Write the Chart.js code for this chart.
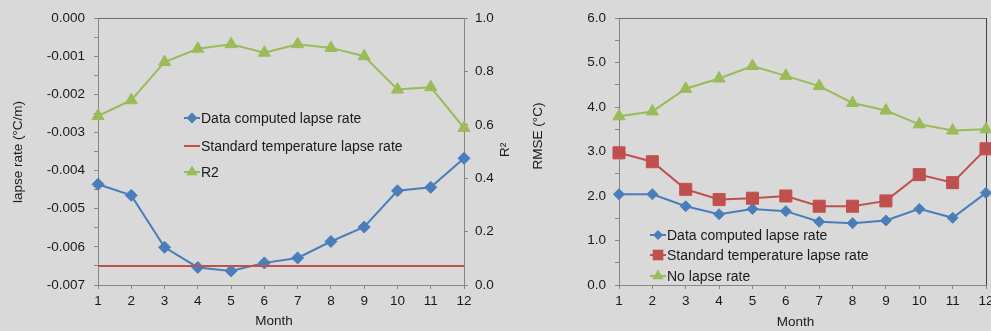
<!DOCTYPE html>
<html>
<head>
<meta charset="utf-8">
<script src="https://cdn.jsdelivr.net/npm/chart.js@4.4.1/dist/chart.umd.min.js"></script>
<style>
  html, body { margin: 0; padding: 0; background: #d9d9d9; width: 991px; height: 331px; overflow: hidden; }
  #wrap { position: relative; width: 991px; height: 331px; overflow: hidden; }
  canvas { position: absolute; top: 0; }
  #lapse { left: 0; }
  #rmse { left: 500px; }
</style>
</head>
<body>
<div id="wrap">
  <canvas id="lapse" width="520" height="331"></canvas>
  <canvas id="rmse" width="540" height="331"></canvas>
</div>
<script>
// Months on the shared x axis
const months = ['1', '2', '3', '4', '5', '6', '7', '8', '9', '10', '11', '12'];

// Monthly lapse rates (°C/m)
const lapseComputed = [-0.00436, -0.00465, -0.00601, -0.00654, -0.00663, -0.00642,
                       -0.00629, -0.00586, -0.00548, -0.00453, -0.00444, -0.00368];
const lapseStandard = [-0.0065, -0.0065, -0.0065, -0.0065, -0.0065, -0.0065,
                       -0.0065, -0.0065, -0.0065, -0.0065, -0.0065, -0.0065];
// Coefficient of determination of the monthly fits
const r2 = [0.633, 0.692, 0.835, 0.885, 0.902, 0.870, 0.902, 0.888, 0.857, 0.732, 0.741, 0.588];

// RMSE (°C) of each temperature model
const rmseComputed = [2.04, 2.04, 1.77, 1.59, 1.71, 1.66, 1.42, 1.39, 1.45, 1.71, 1.51, 2.07];
const rmseStandard = [2.97, 2.77, 2.15, 1.92, 1.95, 2.00, 1.77, 1.77, 1.89, 2.48, 2.30, 3.06];
const rmseNoLapse  = [3.79, 3.90, 4.41, 4.64, 4.92, 4.70, 4.47, 4.09, 3.92, 3.61, 3.47, 3.50];

// Labelled ticks of each value axis
const lapseTickLabels = ['0.000', '-0.001', '-0.002', '-0.003', '-0.004', '-0.005', '-0.006', '-0.007'];
const r2TickLabels = ['0.0', '0.2', '0.4', '0.6', '0.8', '1.0'];
const rmseTickLabels = ['0.0', '1.0', '2.0', '3.0', '4.0', '5.0', '6.0'];

const BLUE = '#4a7ebb';
const RED = '#c0504d';
const GREEN = '#9bbb59';
const AXIS = '#868686';
const TEXT = '#1a1a1a';
const FONT_FAMILY = "'Liberation Sans', Arial, sans-serif";

// Ticks for an axis: labelled values plus unlabelled midpoints when requested
function axisTicks(labels, withMinor) {
  const major = labels.map(Number).sort((a, b) => a - b);
  const values = major.slice();
  if (withMinor) {
    for (let i = 0; i < major.length - 1; i++) values.push((major[i] + major[i + 1]) / 2);
  }
  return values.sort((a, b) => a - b).map(v => ({ value: v }));
}
function labelFor(labels) {
  return function (value) {
    const hit = labels.find(l => Math.abs(Number(l) - value) < 1e-9);
    return hit === undefined ? '' : hit;
  };
}

function marker(ctx, style, x, y, r, color) {
  ctx.fillStyle = color;
  ctx.beginPath();
  if (style === 'rectRot') {
    ctx.moveTo(x - r, y); ctx.lineTo(x, y - r); ctx.lineTo(x + r, y); ctx.lineTo(x, y + r);
  } else if (style === 'rect') {
    const s = r * Math.SQRT1_2;
    ctx.rect(x - s, y - s, 2 * s, 2 * s);
  } else if (style === 'triangle') {
    ctx.moveTo(x, y - r); ctx.lineTo(x + r * 0.866, y + r * 0.5); ctx.lineTo(x - r * 0.866, y + r * 0.5);
  }
  ctx.closePath();
  ctx.fill();
}

// Plot-area frame lines not covered by the axes
const frame = {
  id: 'frame',
  beforeDatasetsDraw(chart, args, opts) {
    const { ctx, chartArea: a } = chart;
    ctx.save();
    ctx.lineWidth = 1;
    ctx.strokeStyle = opts.topColor;
    const ty = Math.round(a.top) + 0.5;
    ctx.beginPath(); ctx.moveTo(a.left, ty); ctx.lineTo(a.right, ty); ctx.stroke();
    if (opts.rightColor) {
      const rx = Math.round(a.right) + 0.5;
      ctx.strokeStyle = opts.rightColor;
      ctx.beginPath(); ctx.moveTo(rx, a.top); ctx.lineTo(rx, a.bottom); ctx.stroke();
    }
    ctx.restore();
  }
};

// Axis captions
const captions = {
  id: 'captions',
  afterDraw(chart, args, opts) {
    const { ctx } = chart;
    ctx.save();
    ctx.fillStyle = opts.color;
    ctx.font = opts.font;
    ctx.textAlign = 'center';
    ctx.textBaseline = 'middle';
    for (const c of opts.items) {
      ctx.save();
      ctx.translate(c.x, c.y);
      if (c.rot) ctx.rotate(c.rot);
      ctx.fillText(c.text, 0, 0);
      ctx.restore();
    }
    ctx.restore();
  }
};

// Legend drawn inside the plot area
const insetLegend = {
  id: 'insetLegend',
  afterDraw(chart, args, opts) {
    const { ctx, chartArea: a } = chart;
    ctx.save();
    ctx.font = opts.font;
    ctx.textBaseline = 'middle';
    ctx.textAlign = 'left';
    chart.data.datasets.forEach((ds, i) => {
      const x = a.left + opts.x;
      const y = a.top + opts.rows[i];
      ctx.strokeStyle = ds.borderColor;
      ctx.lineWidth = 2;
      ctx.beginPath(); ctx.moveTo(x, y); ctx.lineTo(x + 16, y); ctx.stroke();
      if (ds.pointRadius > 0) marker(ctx, ds.pointStyle, x + 8, y, opts.markerRadius[ds.pointStyle], ds.backgroundColor);
      ctx.fillStyle = opts.color;
      ctx.fillText(ds.label, x + 17, y + 1);
    });
    ctx.restore();
  }
};

const tickFont = { family: FONT_FAMILY, size: 13.5 };

function xScale() {
  return {
    offset: false,
    grid: { display: true, drawOnChartArea: false, tickLength: 4, tickColor: AXIS },
    border: { color: AXIS, width: 1 },
    ticks: { font: tickFont, color: TEXT, padding: 4, maxRotation: 0, autoSkip: false },
    afterFit(s) { s.height = 46; }
  };
}
function yScale(position, labels, withMinor, width, pad) {
  const vals = labels.map(Number);
  return {
    position,
    min: Math.min(...vals),
    max: Math.max(...vals),
    afterBuildTicks(s) { s.ticks = axisTicks(labels, withMinor); },
    ticks: { font: tickFont, color: TEXT, padding: pad, autoSkip: false, callback: labelFor(labels) },
    grid: { display: true, drawOnChartArea: false, tickLength: 4, tickColor: AXIS },
    border: { color: AXIS, width: 1 },
    afterFit(s) { s.width = width; }
  };
}

const captionFont = '13.5px ' + FONT_FAMILY;
const legendFont = '14px ' + FONT_FAMILY;

new Chart(document.getElementById('lapse'), {
  type: 'line',
  data: {
    labels: months,
    datasets: [
      { label: 'Data computed lapse rate', data: lapseComputed, yAxisID: 'y', order: 3,
        borderColor: BLUE, backgroundColor: BLUE, borderWidth: 2,
        pointStyle: 'rectRot', pointRadius: 6, pointBorderWidth: 1, pointBorderColor: BLUE },
      { label: 'Standard temperature lapse rate', data: lapseStandard, yAxisID: 'y', order: 2,
        borderColor: RED, backgroundColor: RED, borderWidth: 2, pointRadius: 0 },
      { label: 'R2', data: r2, yAxisID: 'y1', order: 1,
        borderColor: GREEN, backgroundColor: GREEN, borderWidth: 2,
        pointStyle: 'triangle', pointRadius: 7, pointBorderWidth: 1, pointBorderColor: GREEN }
    ]
  },
  options: {
    responsive: false,
    animation: false,
    layout: { padding: { top: 18, right: 0, bottom: 0, left: 0 } },
    elements: { line: { tension: 0 } },
    plugins: {
      legend: { display: false },
      tooltip: { enabled: false },
      frame: { topColor: '#6e6e6e' },
      captions: {
        font: captionFont, color: TEXT,
        items: [
          { text: 'lapse rate (°C/m)', x: 18, y: 152, rot: -Math.PI / 2 },
          { text: 'R²', x: 505, y: 150, rot: -Math.PI / 2 },
          { text: 'Month', x: 274, y: 321 }
        ]
      },
      insetLegend: {
        font: legendFont, color: TEXT, x: 86, rows: [100, 128, 154],
        markerRadius: { rectRot: 5.5, triangle: 6.5, rect: 8 }
      }
    },
    scales: {
      x: xScale(),
      y: yScale('left', lapseTickLabels, true, 98, 9),
      y1: yScale('right', r2TickLabels, false, 56, 7)
    }
  },
  plugins: [frame, captions, insetLegend]
});

new Chart(document.getElementById('rmse'), {
  type: 'line',
  data: {
    labels: months,
    datasets: [
      { label: 'Data computed lapse rate', data: rmseComputed, order: 3,
        borderColor: BLUE, backgroundColor: BLUE, borderWidth: 2,
        pointStyle: 'rectRot', pointRadius: 5.5, pointBorderWidth: 1, pointBorderColor: BLUE },
      { label: 'Standard temperature lapse rate', data: rmseStandard, order: 2,
        borderColor: RED, backgroundColor: RED, borderWidth: 2,
        pointStyle: 'rect', pointRadius: 8.5, pointBorderWidth: 1, pointBorderColor: RED },
      { label: 'No lapse rate', data: rmseNoLapse, order: 1,
        borderColor: GREEN, backgroundColor: GREEN, borderWidth: 2,
        pointStyle: 'triangle', pointRadius: 7, pointBorderWidth: 1, pointBorderColor: GREEN }
    ]
  },
  options: {
    responsive: false,
    animation: false,
    layout: { padding: { top: 18, right: 54, bottom: 0, left: 0 } },
    elements: { line: { tension: 0 } },
    plugins: {
      legend: { display: false },
      tooltip: { enabled: false },
      frame: { topColor: '#6e6e6e', rightColor: '#404040' },
      captions: {
        font: captionFont, color: TEXT,
        items: [
          { text: 'RMSE (°C)', x: 38, y: 136, rot: -Math.PI / 2 },
          { text: 'Month', x: 295.5, y: 322 }
        ]
      },
      insetLegend: {
        font: legendFont, color: TEXT, x: 31, rows: [217, 237, 258],
        markerRadius: { rectRot: 5, triangle: 6.5, rect: 7.5 }
      }
    },
    scales: {
      x: xScale(),
      y: yScale('left', rmseTickLabels, true, 119, 9)
    }
  },
  plugins: [frame, captions, insetLegend]
});
</script>
</body>
</html>
